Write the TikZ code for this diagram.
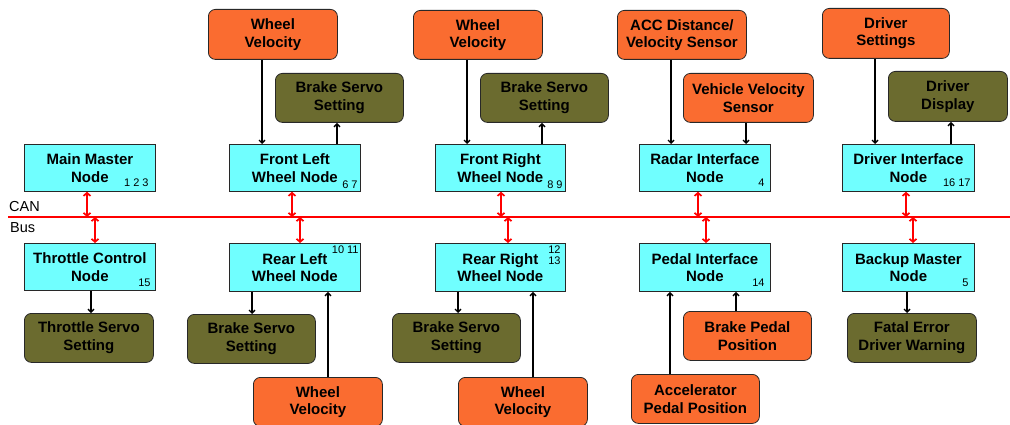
\documentclass[tikz,border=0pt]{standalone}
\usepackage{fontspec}
\setmainfont{Liberation Sans}
\usetikzlibrary{arrows.meta}
\definecolor{nodecyan}{RGB}{112,255,255}
\definecolor{sensor}{RGB}{250,108,48}
\definecolor{actu}{RGB}{107,107,47}
\definecolor{edge}{RGB}{40,40,40}
\begin{document}
\begin{tikzpicture}[x=1pt,y=-1pt,
  base/.style={draw=edge,line width=0.8pt,anchor=north west,inner sep=0pt,align=center,
    font=\bfseries\fontsize{15}{17.5}\selectfont,text=black},
  ecu/.style={base,fill=nodecyan},
  sens/.style={base,fill=sensor,rounded corners=7pt},
  act/.style={base,fill=actu,rounded corners=7pt},
  num/.style={inner sep=0pt,font=\fontsize{11}{11}\selectfont,align=center},
  arr/.style={line width=1.4pt,-{Straight Barb[length=3pt,width=6pt]}},
  canarr/.style={red,line width=1.7pt,{Straight Barb[length=3pt,width=7pt]}-{Straight Barb[length=3pt,width=7pt]}},
  bus/.style={red,line width=2pt},
  lab/.style={inner sep=0pt,anchor=west,font=\fontsize{14.5}{16}\selectfont}]
\useasboundingbox (0,0) rectangle (1010,425);

% ECU nodes, top row
\node[ecu,minimum width=131pt,minimum height=47pt] (mm)  at (24,144)  {Main Master\\Node};
\node[ecu,minimum width=131pt,minimum height=47pt] (fl)  at (229,144) {Front Left\\Wheel Node};
\node[ecu,minimum width=130pt,minimum height=47pt] (fr)  at (435,144) {Front Right\\Wheel Node};
\node[ecu,minimum width=131pt,minimum height=47pt] (rad) at (639,144) {Radar Interface\\Node};
\node[ecu,minimum width=132pt,minimum height=47pt] (dri) at (842,144) {Driver Interface\\Node};
% ECU nodes, bottom row
\node[ecu,minimum width=131pt,minimum height=47pt] (thr) at (24,243)  {Throttle Control\\Node};
\node[ecu,minimum width=131pt,minimum height=48pt] (rl)  at (229,243) {Rear Left\\Wheel Node};
\node[ecu,minimum width=130pt,minimum height=48pt] (rr)  at (435,243) {Rear Right\\Wheel Node};
\node[ecu,minimum width=131pt,minimum height=48pt] (ped) at (639,243) {Pedal Interface\\Node};
\node[ecu,minimum width=132pt,minimum height=48pt] (bak) at (842,243) {Backup Master\\Node};

% node numbers
\node[num,anchor=south east] (n1)  at ([xshift=-7pt,yshift=5pt]mm.south east)  {1 2 3};
\node[num,anchor=south east] (n2)  at ([xshift=-3pt,yshift=3pt]fl.south east)  {6 7};
\node[num,anchor=south east] (n3)  at ([xshift=-3pt,yshift=3pt]fr.south east)  {8 9};
\node[num,anchor=south east] (n4)  at ([xshift=-6pt,yshift=5pt]rad.south east) {4};
\node[num,anchor=south east] (n5)  at ([xshift=-4pt,yshift=5pt]dri.south east) {16 17};
\node[num,anchor=south east] (n6)  at ([xshift=-5pt,yshift=4pt]thr.south east) {15};
\node[num,anchor=north east] (n7)  at ([xshift=-2pt,yshift=-3pt]rl.north east) {10 11};
\node[num,anchor=north east] (n8)  at ([xshift=-5pt,yshift=-3pt]rr.north east) {12\\13};
\node[num,anchor=south east] (n9)  at ([xshift=-6pt,yshift=5pt]ped.south east) {14};
\node[num,anchor=south east] (n10) at ([xshift=-6pt,yshift=5pt]bak.south east) {5};

% sensors and actuators, top
\node[sens,minimum width=129pt,minimum height=50pt] (wv1) at (208,9)  {Wheel\\Velocity};
\node[act, minimum width=128pt,minimum height=49pt] (bs1) at (275,73) {Brake Servo\\Setting};
\node[sens,minimum width=129pt,minimum height=49pt] (wv2) at (413,10) {Wheel\\Velocity};
\node[act, minimum width=128pt,minimum height=49pt] (bs2) at (480,73) {Brake Servo\\Setting};
\node[sens,minimum width=129pt,minimum height=49pt] (acc) at (617,10) {ACC Distance/\\Velocity Sensor};
\node[sens,minimum width=130pt,minimum height=49pt] (vvs) at (683,73) {Vehicle Velocity\\Sensor};
\node[sens,minimum width=127pt,minimum height=50pt] (ds)  at (822,8)  {Driver\\Settings};
\node[act, minimum width=119pt,minimum height=50pt] (dd)  at (888,71) {Driver\\Display};
% sensors and actuators, bottom
\node[act, minimum width=129pt,minimum height=49pt] (ts)  at (24,313)  {Throttle Servo\\Setting};
\node[act, minimum width=128pt,minimum height=49pt] (bs3) at (187,314) {Brake Servo\\Setting};
\node[sens,minimum width=129pt,minimum height=49pt] (wv3) at (253,377) {Wheel\\Velocity};
\node[act, minimum width=128pt,minimum height=49pt] (bs4) at (392,313) {Brake Servo\\Setting};
\node[sens,minimum width=129pt,minimum height=49pt] (wv4) at (458,377) {Wheel\\Velocity};
\node[sens,minimum width=128pt,minimum height=49pt] (bpp) at (683,311) {Brake Pedal\\Position};
\node[sens,minimum width=128pt,minimum height=49pt] (app) at (631,374) {Accelerator\\Pedal Position};
\node[act, minimum width=129pt,minimum height=49pt] (fe)  at (847,313) {Fatal Error\\Driver Warning};

% CAN bus
\coordinate (busL) at (8,217);
\coordinate (busR) at (1010,217);
\draw[bus] (busL) -- (busR);
\node[lab] (can) at (9,207) {CAN};
\node[lab] (bl)  at (10,228) {Bus};

% bus connections
\draw[canarr] (87,0 |- mm.south)  -- (87,0 |- busL);
\draw[canarr] (95,0 |- busL)      -- (95,0 |- thr.north);
\draw[canarr] (292,0 |- fl.south) -- (292,0 |- busL);
\draw[canarr] (300,0 |- busL)     -- (300,0 |- rl.north);
\draw[canarr] (501,0 |- fr.south) -- (501,0 |- busL);
\draw[canarr] (508,0 |- busL)     -- (508,0 |- rr.north);
\draw[canarr] (698,0 |- rad.south) -- (698,0 |- busL);
\draw[canarr] (706,0 |- busL)      -- (706,0 |- ped.north);
\draw[canarr] (906,0 |- dri.south) -- (906,0 |- busL);
\draw[canarr] (913,0 |- busL)      -- (913,0 |- bak.north);

% signal connections
\draw[arr] (262,0 |- wv1.south) -- (262,0 |- fl.north);
\draw[arr] (337,0 |- fl.north)  -- (337,0 |- bs1.south);
\draw[arr] (467,0 |- wv2.south) -- (467,0 |- fr.north);
\draw[arr] (542,0 |- fr.north)  -- (542,0 |- bs2.south);
\draw[arr] (671,0 |- acc.south) -- (671,0 |- rad.north);
\draw[arr] (746,0 |- vvs.south) -- (746,0 |- rad.north);
\draw[arr] (875,0 |- ds.south)  -- (875,0 |- dri.north);
\draw[arr] (951,0 |- dri.north) -- (951,0 |- dd.south);
\draw[arr] (91,0 |- thr.south)  -- (91,0 |- ts.north);
\draw[arr] (252,0 |- rl.south)  -- (252,0 |- bs3.north);
\draw[arr] (328,0 |- wv3.north) -- (328,0 |- rl.south);
\draw[arr] (458,0 |- rr.south)  -- (458,0 |- bs4.north);
\draw[arr] (533,0 |- wv4.north) -- (533,0 |- rr.south);
\draw[arr] (670,0 |- app.north) -- (670,0 |- ped.south);
\draw[arr] (736,0 |- bpp.north) -- (736,0 |- ped.south);
\draw[arr] (907,0 |- bak.south) -- (907,0 |- fe.north);
\end{tikzpicture}
\end{document}
